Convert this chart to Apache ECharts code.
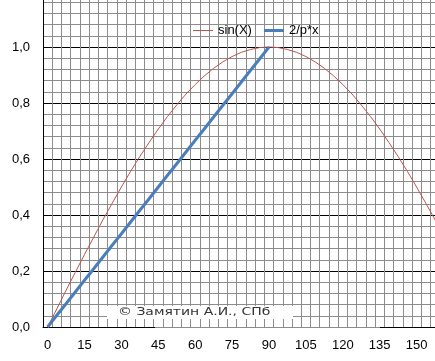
<!DOCTYPE html>
<html>
<head>
<meta charset="utf-8">
<script src="https://cdn.jsdelivr.net/npm/echarts@6/dist/echarts.min.js"></script>
<style>html,body{margin:0;padding:0;background:#fff}#c{width:435px;height:361px}</style>
</head>
<body>
<div id="c"></div>
<script>
// x categories in degrees (step 3.75), labels every 4th category
var categories = ["0","3.75","7.5","11.25","15","18.75","22.5","26.25","30","33.75","37.5","41.25","45","48.75","52.5","56.25","60","63.75","67.5","71.25","75","78.75","82.5","86.25","90","93.75","97.5","101.25","105","108.75","112.5","116.25","120","123.75","127.5","131.25","135","138.75","142.5","146.25","150","153.75","157.5","161.25","165","168.75","172.5","176.25","180"];
var sinValues = [0,0.065,0.131,0.195,0.259,0.321,0.383,0.442,0.5,0.556,0.609,0.659,0.707,0.752,0.793,0.832,0.866,0.897,0.924,0.947,0.966,0.981,0.991,0.998,1.0,0.998,0.991,0.981,0.966,0.947,0.924,0.897,0.866,0.832,0.793,0.752,0.707,0.659,0.609,0.556,0.5,0.442,0.383,0.321,0.259,0.195,0.131,0.065,0];
var linValues = [0,0.042,0.083,0.125,0.167,0.208,0.25,0.292,0.333,0.375,0.417,0.458,0.5,0.542,0.583,0.625,0.667,0.708,0.75,0.792,0.833,0.875,0.917,0.958,1.0];
var yTicks = ["0,0","0,2","0,4","0,6","0,8","1,0"];
var seriesNames = ["sin(X)","2/p*x"];

var chart = echarts.init(document.getElementById('c'), null, {renderer:'canvas'});
var gridGray = '#8c8c8c';
var redC = '#b8564f', blueC = '#4a7ebb';
chart.setOption({
  animation:false,
  backgroundColor:'#fff',
  textStyle:{fontFamily:'Liberation Sans, Arial, sans-serif'},
  legend:{
    data:[
      {name:seriesNames[0], icon:'path://M0 0H20V1H0Z'},
      {name:seriesNames[1], icon:'path://M0 0H20V3H0Z'}
    ],
    left:188, top:19,
    itemWidth:20, itemHeight:3, itemGap:12,
    textStyle:{fontSize:13, color:'#000', fontFamily:'Liberation Sans, Arial, sans-serif'}
  },
  grid:{left:43, top:-9, width:452, height:336, containLabel:false, outerBoundsMode:'none'},
  xAxis:{
    type:'category', data:categories, boundaryGap:true,
    axisLine:{show:true, lineStyle:{color:'#000', width:1}},
    axisTick:{show:false},
    axisLabel:{interval:3, margin:12, fontSize:13, color:'#000'},
    splitLine:{show:true, interval:0, lineStyle:{color:gridGray, width:1}}
  },
  yAxis:{
    type:'value', min:0, max:1.2, interval:0.2,
    axisLine:{show:true, lineStyle:{color:'#000', width:1}},
    axisTick:{show:false},
    axisLabel:{margin:13, fontSize:13, color:'#000',
      formatter:function(v){var i=Math.round(v/0.2); return (Math.abs(v-i*0.2)<1e-6 && i<yTicks.length)? yTicks[i] : '';}},
    splitLine:{show:true, lineStyle:{color:'#000', width:1}},
    minorTick:{show:false, splitNumber:5},
    minorSplitLine:{show:true, lineStyle:{color:gridGray, width:1}}
  },
  series:[
    {name:seriesNames[0], type:'line', data:sinValues, symbol:'none',
     lineStyle:{color:redC, width:1}, itemStyle:{color:redC}, z:3},
    {name:seriesNames[1], type:'line', data:linValues, symbol:'none',
     lineStyle:{color:blueC, width:3}, itemStyle:{color:blueC}, z:4}
  ],
  graphic:[
    {type:'rect', shape:{x:107, y:306, width:186, height:13}, style:{fill:'#fff'}, z:10},
    {type:'text', x:118, y:307, scaleX:1.27, style:{text:'© Замятин А.И., СПб', font:'11px "DejaVu Sans"', fill:'#333'}, z:11},
    {type:'rect', shape:{x:155, y:327, width:225, height:1}, style:{fill:'rgba(255,255,255,0.55)'}, z:12}
  ]
});
</script>
</body>
</html>
